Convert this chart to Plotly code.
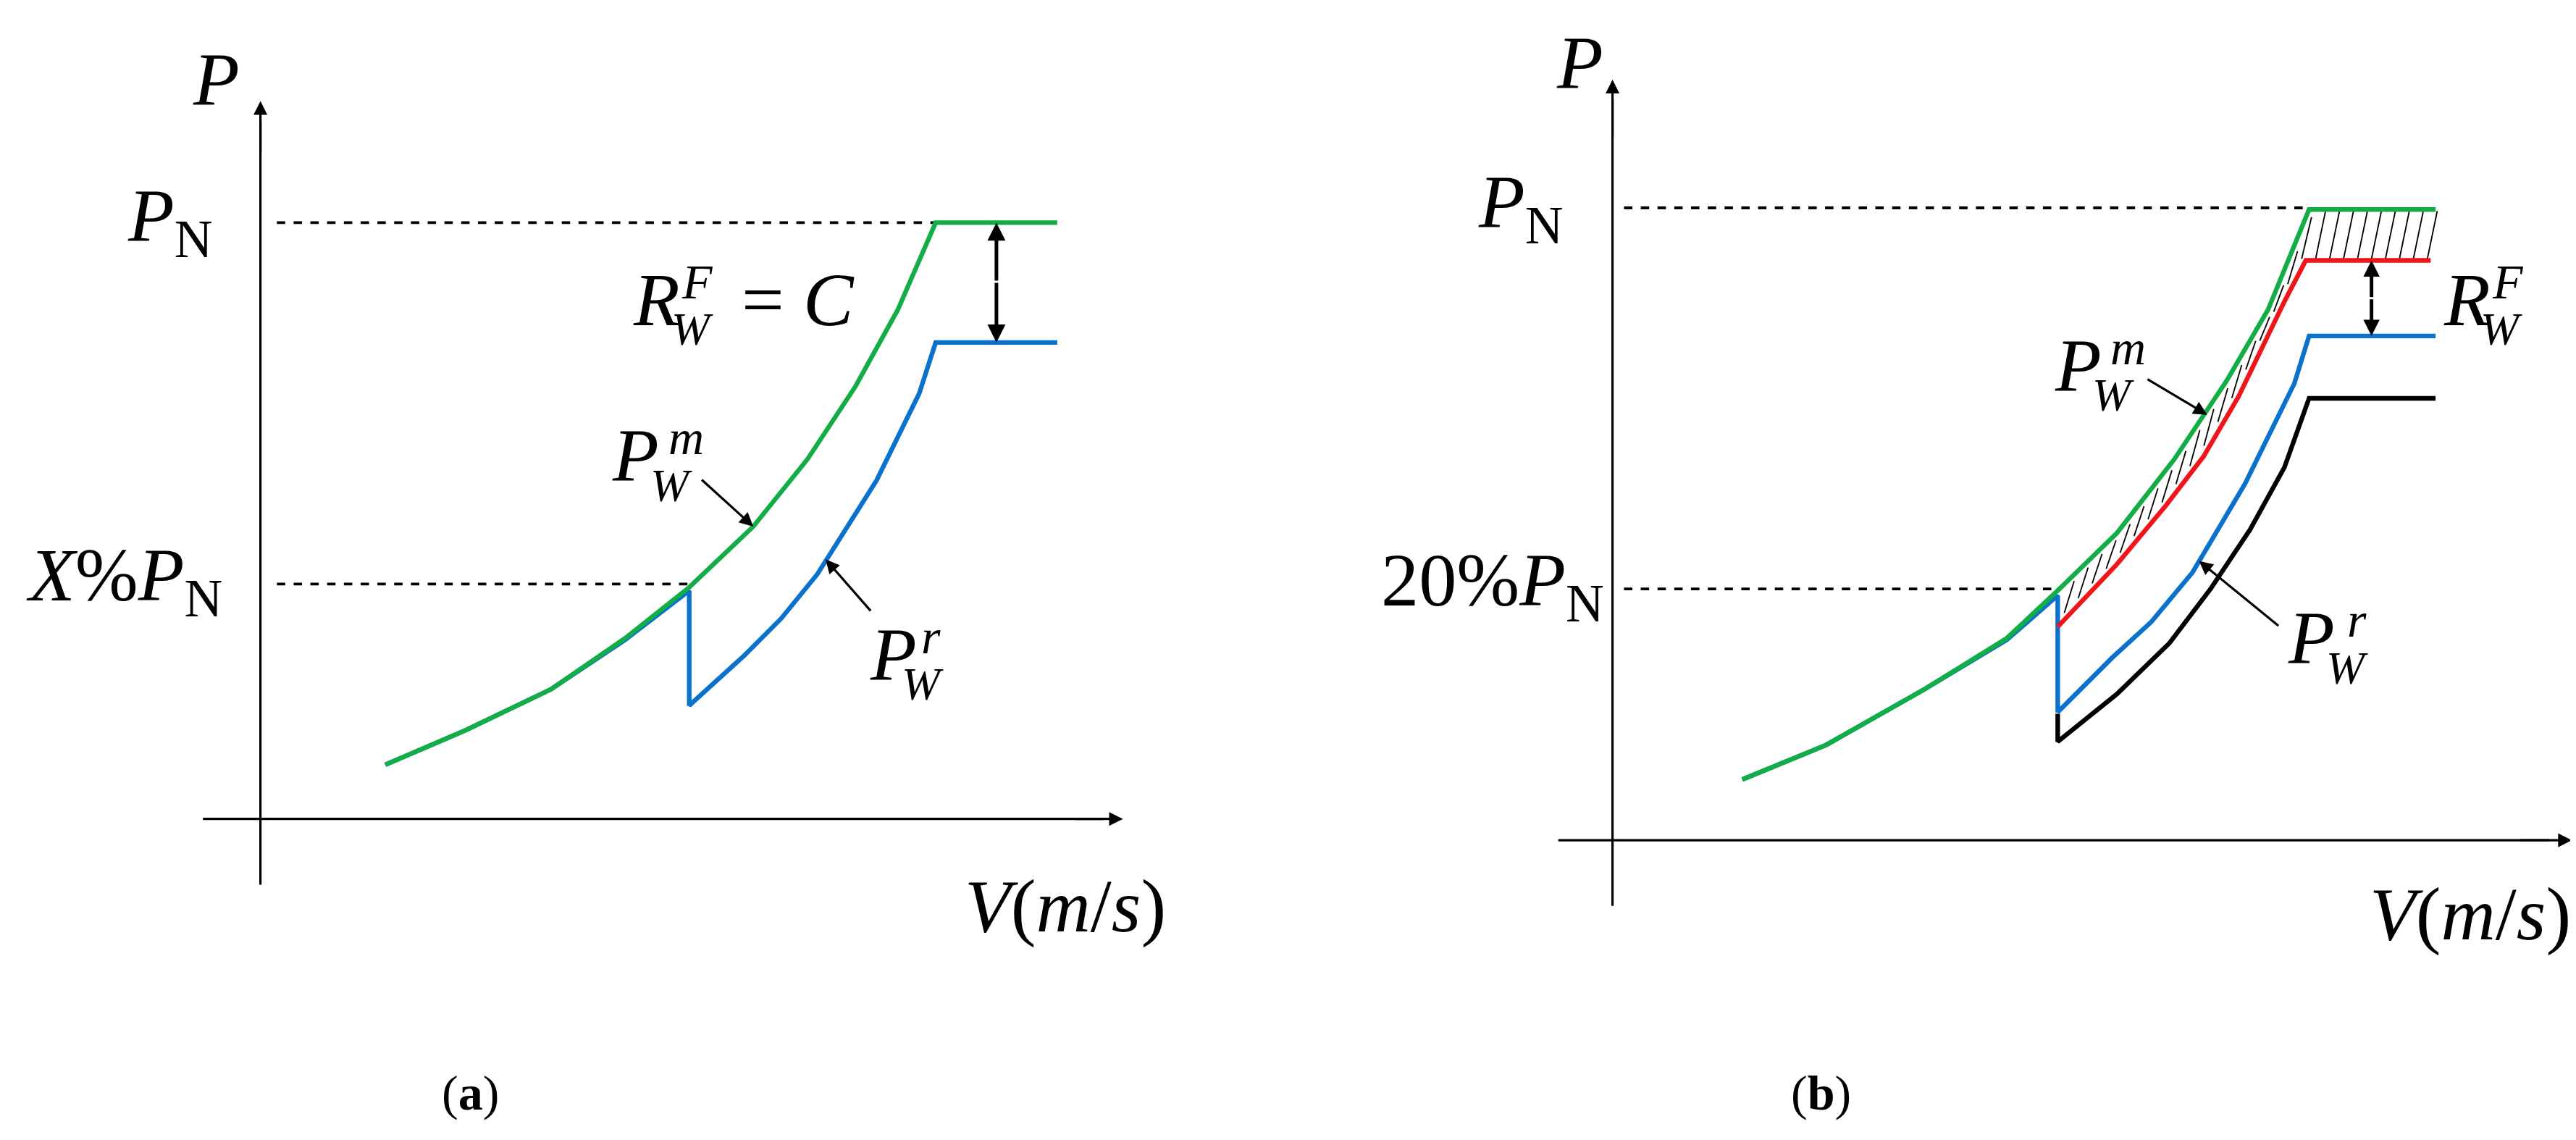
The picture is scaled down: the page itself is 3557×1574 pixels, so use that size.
import plotly.graph_objects as go
import numpy as np

# ---- data (schematic, in figure pixel units of a 1568x694 canvas) ----
# panel (a)
a_green_x = [231, 280, 332, 377, 416, 455, 488, 517, 543, 566, 640]
a_green_y = [462, 441, 416, 385, 354, 317, 276, 232, 185, 132, 132]
a_blue_x = [231, 280, 332, 377, 416, 416, 449, 472, 494, 530, 556, 566, 640]
a_blue_y = [462, 441, 416, 386, 356, 426, 396, 373, 346, 289, 236, 205, 205]
# panel (b)
b_green_x = [1057, 1108, 1168, 1218, 1249, 1285, 1320, 1352, 1377, 1402, 1479]
b_green_y = [471, 450, 416, 385, 356, 321, 276, 228, 185, 124, 124]
b_blue_x = [1057, 1108, 1168, 1218, 1249, 1249, 1282, 1306, 1331, 1363, 1393, 1402, 1479]
b_blue_y = [471, 450, 416, 386, 359, 430, 397, 375, 345, 291, 230, 201, 201]
b_red_x = [1249, 1285, 1315, 1338, 1359, 1387, 1400, 1476]
b_red_y = [378, 340, 304, 274, 238, 180, 155, 155]
b_black_x = [1249, 1249, 1285, 1317, 1342, 1366, 1387, 1402, 1479]
b_black_y = [431, 448, 419, 388, 355, 319, 281, 239, 239]

GREEN, BLUE, RED, BLACK = "#12ad45", "#0a72cc", "#f0141b", "#000000"
S = 3557 / 1568
LW = 2.8 * S
FONT = "Liberation Serif"

fig = go.Figure()

def line(x, y, color, width=LW, dash=None):
    fig.add_trace(go.Scatter(x=x, y=y, mode="lines", hoverinfo="skip",
                             line=dict(color=color, width=width, dash=dash)))

# axes
line([155, 155], [535, 70], BLACK, 1.4 * S)
line([120, 668], [495, 495], BLACK, 1.4 * S)
line([978, 978], [548, 57], BLACK, 1.4 * S)
line([945, 1548], [508, 508], BLACK, 1.4 * S)
# dashed guides
line([165, 566], [132, 132], BLACK, 1.7 * S, "dash")
line([165, 416], [352, 352], BLACK, 1.7 * S, "dash")
line([985, 1402], [123, 123], BLACK, 1.7 * S, "dash")
line([985, 1249], [355, 355], BLACK, 1.7 * S, "dash")

# hatching between green and red in (b)
hx, hy = [], []
for xs in np.arange(1256, 1478, 8.5):
    yg = np.interp(xs, b_green_x, b_green_y)
    yr = np.interp(xs, b_red_x, b_red_y)
    if yr - yg > 5:
        hx += [xs - 3, xs + 3, None]
        hy += [yr - 1, yg + 1, None]
line(hx, hy, BLACK, 0.8 * S)

line(a_blue_x, a_blue_y, BLUE)
line(a_green_x, a_green_y, GREEN)
line(b_black_x, b_black_y, BLACK)
line(b_blue_x, b_blue_y, BLUE)
line(b_red_x, b_red_y, RED)
line(b_green_x, b_green_y, GREEN)

ann = []
def arrow(x0, y0, x1, y1, w=1.4, head=2, size=1.2):
    ann.append(dict(x=x1, y=y1, ax=x0, ay=y0, xref="x", yref="y", axref="x", ayref="y",
                    showarrow=True, arrowhead=head, arrowsize=size, arrowwidth=w * S,
                    arrowcolor="black", text=""))
# axis arrowheads
arrow(155, 90, 155, 58)
arrow(650, 495, 680, 495)
arrow(978, 80, 978, 45)
arrow(1530, 508, 1562, 508)
# double arrows
arrow(603, 168, 603, 132, 2.2, 2, 1.0); arrow(603, 168, 603, 205, 2.2, 2, 1.0)
arrow(1440, 178, 1440, 155, 2.2, 2, 0.9); arrow(1440, 178, 1440, 201, 2.2, 2, 0.9)
# label pointers
arrow(423, 288, 455, 317, 1.4)
arrow(527, 369, 499, 337, 1.4)
arrow(1303, 227, 1340, 249, 1.4)
arrow(1384, 378, 1335, 338, 1.4)

def txt(x, y, s, size, anchor="center"):
    ann.append(dict(x=x, y=y, xref="x", yref="y", text=s, showarrow=False,
                    xanchor=anchor, yanchor="middle",
                    font=dict(family=FONT, size=size * S, color="black")))

BIG = 46
SM = 30
txt(128, 45, "<i>P</i>", BIG)
txt(100, 131, "<i>P</i><sub>N</sub>", BIG)
txt(72, 350, "<i>X</i>%<i>P</i><sub>N</sub>", BIG)
txt(645, 548, "<i>V</i>(<i>m</i>/<i>s</i>)", BIG)
txt(958, 35, "<i>P</i>", BIG)
txt(922, 123, "<i>P</i><sub>N</sub>", BIG)
txt(905, 353, "20%<i>P</i><sub>N</sub>", BIG)
txt(1500, 553, "<i>V</i>(<i>m</i>/<i>s</i>)", BIG)

def sym(xl, y, main, sup, sub, dx_sup, dx_sub):
    txt(xl, y, "<i>%s</i>" % main, BIG, "left")
    txt(xl + dx_sup, y - 11, "<i>%s</i>" % sup, SM)
    txt(xl + dx_sub, y + 18, "<i>W</i>", SM - 2)

sym(368, 274, "P", "m", "W", 46, 37)
sym(525, 395, "P", "r", "W", 38, 33)
sym(1246, 219, "P", "m", "W", 46, 37)
sym(1388, 385, "P", "r", "W", 43, 37)
sym(381, 179, "R", "F", "W", 40, 37)
txt(447, 179, "= <i>C</i>", BIG, "left")
sym(1483, 179, "R", "F", "W", 40, 36)

txt(283, 662, "(<b>a</b>)", 30)
txt(1105, 662, "(<b>b</b>)", 30)

fig.update_layout(
    width=3557, height=1574, margin=dict(l=0, r=0, t=0, b=0),
    paper_bgcolor="white", plot_bgcolor="white", showlegend=False,
    xaxis=dict(range=[0, 1568], visible=False, fixedrange=True),
    yaxis=dict(range=[694, 0], visible=False, fixedrange=True),
    annotations=ann,
)
fig.write_html("out.html")
